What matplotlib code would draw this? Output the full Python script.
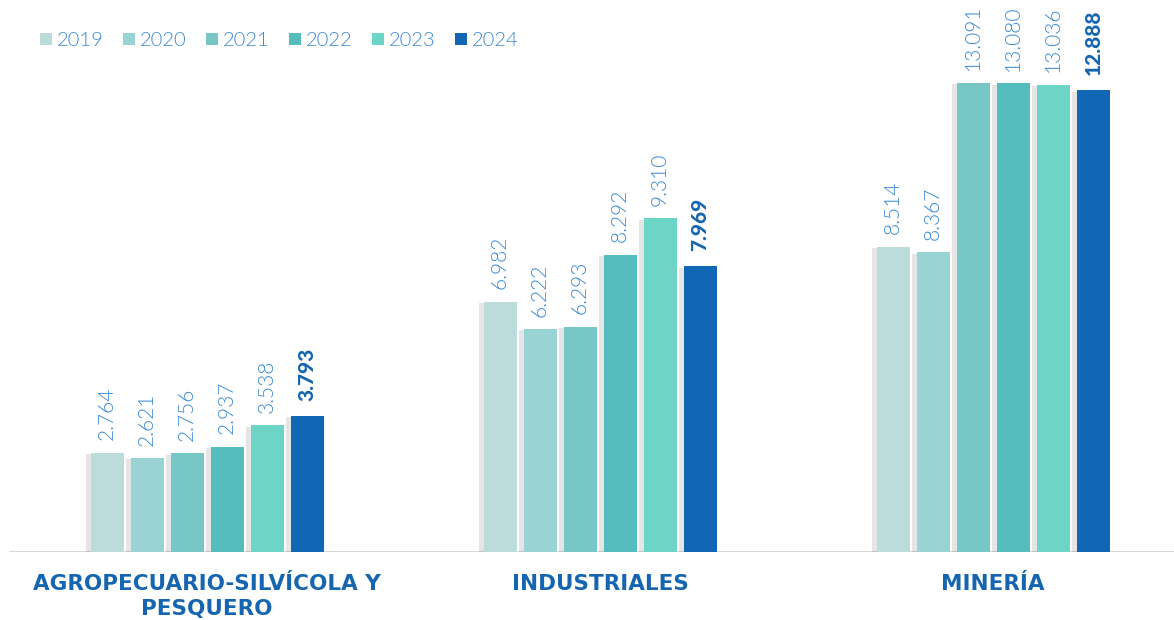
import matplotlib
matplotlib.use("Agg")
import matplotlib.pyplot as plt
import matplotlib.patheffects as pe
from matplotlib.patches import Patch
import numpy as np

categories = ["AGROPECUARIO-SILVÍCOLA Y\nPESQUERO", "INDUSTRIALES", "MINERÍA"]
years = ["2019", "2020", "2021", "2022", "2023", "2024"]
values = {
    "2019": [2.764, 6.982, 8.514],
    "2020": [2.621, 6.222, 8.367],
    "2021": [2.756, 6.293, 13.091],
    "2022": [2.937, 8.292, 13.080],
    "2023": [3.538, 9.310, 13.036],
    "2024": [3.793, 7.969, 12.888],
}
colors = ["#BCDCDC", "#9AD3D3", "#78C7C7", "#55BDBD", "#6DD5C5", "#1167B4"]
label_color = "#3A8AD4"
dark_blue = "#1565B0"

W, H = 1174, 620
fig = plt.figure(figsize=(W / 100, H / 100), dpi=100)
ax = fig.add_axes([0, 68 / H, 1, 1 - 68 / H])

x = np.arange(len(categories))
pitch = 40 / 393
width = 33 / 393

shadow = [pe.SimplePatchShadow(offset=(-3, -1), shadow_rgbFace="#000000", alpha=0.10), pe.Normal()]

for i, yr in enumerate(years):
    pos = x + (i - 2.5) * pitch
    bars = ax.bar(pos, values[yr], width=width, color=colors[i], zorder=3)
    for b in bars:
        b.set_path_effects(shadow)
    for p, v in zip(pos, values[yr]):
        txt = f"{v:.3f}"
        if yr == "2024":
            ax.annotate(txt, (p, v), xytext=(0, 11), textcoords="offset points",
                        rotation=90, ha="center", va="bottom", fontsize=15,
                        color=dark_blue, fontweight="black", family="Lato")
        else:
            ax.annotate(txt, (p, v), xytext=(0, 9), textcoords="offset points",
                        rotation=90, ha="center", va="bottom", fontsize=15,
                        color=label_color, fontweight=300, family="Lato")

ax.set_xlim(-207 / 393, (W - 207) / 393)
ax.set_ylim(0, 552 / 35.83)
ax.axhline(0, xmin=10 / W, xmax=1, color="#D5D5D5", linewidth=2, zorder=2)
for s in ax.spines.values():
    s.set_visible(False)
ax.set_yticks([])
ax.set_xticks(x)
ax.set_xticklabels(categories, fontsize=15.5, fontweight="bold", color=dark_blue,
                   family=["Liberation Sans Narrow", "DejaVu Sans"], linespacing=1.3)
ax.tick_params(axis="x", length=0, pad=16)

handles = [Patch(facecolor=c, edgecolor="none") for c in colors]
leg = fig.legend(handles, years, loc="upper left", bbox_to_anchor=(22 / W, 1 - 14 / H),
                 ncol=6, frameon=False, handlelength=0.6, handleheight=0.6,
                 handletextpad=0.25, columnspacing=0.95,
                 prop={"family": "Lato", "weight": 300, "size": 14.5})
for t in leg.get_texts():
    t.set_color(label_color)

fig.savefig("out.png", dpi=100)
